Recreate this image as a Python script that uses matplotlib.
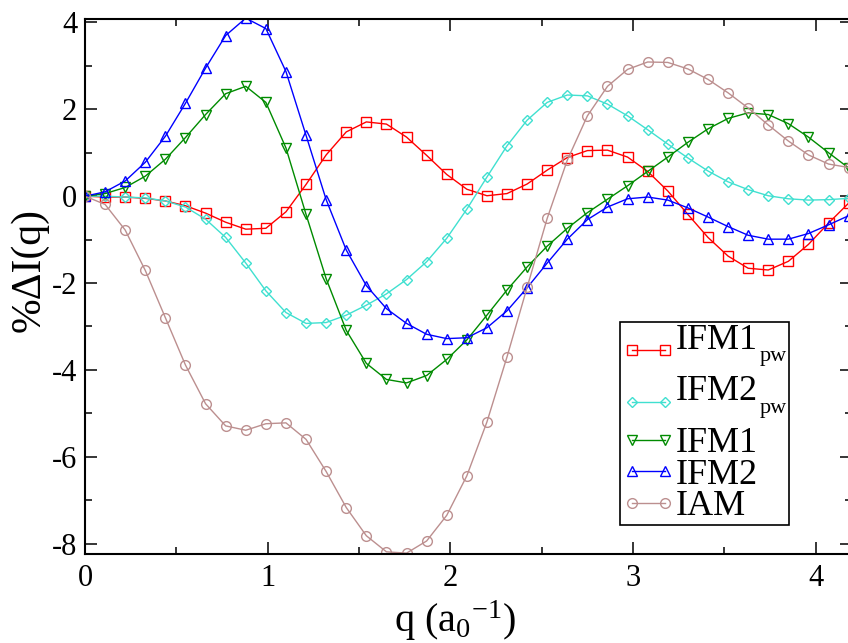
import numpy as np
import matplotlib
matplotlib.use("Agg")
import matplotlib.pyplot as plt
from matplotlib.ticker import MultipleLocator

plt.rcParams['font.family'] = ['Liberation Serif', 'DejaVu Serif']
plt.rcParams['mathtext.fontset'] = 'custom'
plt.rcParams['mathtext.rm'] = 'Liberation Serif'
plt.rcParams['mathtext.it'] = 'Liberation Serif:italic'
plt.rcParams['axes.unicode_minus'] = False

# momentum transfer grid (a0^-1)
dq = 0.11
q = dq * np.arange(40)

ifm1_pw = [0.00, -0.02, -0.02, -0.05, -0.11, -0.22, -0.39, -0.60, -0.76, -0.74,
           -0.36, 0.27, 0.95, 1.48, 1.71, 1.66, 1.36, 0.94, 0.50, 0.16,
           0.01, 0.06, 0.28, 0.60, 0.89, 1.05, 1.06, 0.90, 0.57, 0.12,
           -0.42, -0.95, -1.38, -1.66, -1.70, -1.50, -1.11, -0.62, -0.16, 0.30]
ifm2_pw = [0.00, 0.00, -0.02, -0.04, -0.11, -0.25, -0.53, -0.95, -1.54, -2.18,
           -2.68, -2.93, -2.91, -2.74, -2.51, -2.25, -1.92, -1.51, -0.97, -0.30,
           0.44, 1.16, 1.75, 2.16, 2.33, 2.31, 2.12, 1.85, 1.53, 1.20,
           0.88, 0.58, 0.33, 0.15, 0.01, -0.06, -0.09, -0.08, -0.05, 0.00]
ifm1 = [0.00, 0.06, 0.20, 0.46, 0.85, 1.35, 1.88, 2.36, 2.53, 2.16,
        1.11, -0.42, -1.90, -3.09, -3.85, -4.22, -4.30, -4.13, -3.76, -3.31,
        -2.74, -2.16, -1.63, -1.15, -0.74, -0.38, -0.07, 0.24, 0.57, 0.90,
        1.24, 1.55, 1.79, 1.92, 1.88, 1.67, 1.36, 1.00, 0.65, 0.32]
ifm2 = [0.00, 0.10, 0.35, 0.78, 1.38, 2.14, 2.95, 3.70, 4.10, 3.86,
        2.87, 1.40, -0.08, -1.24, -2.06, -2.59, -2.93, -3.18, -3.28, -3.26,
        -3.03, -2.64, -2.11, -1.54, -0.99, -0.54, -0.25, -0.06, -0.02, -0.09,
        -0.27, -0.48, -0.70, -0.90, -0.99, -0.99, -0.86, -0.66, -0.45, -0.22]
iam = [0.00, -0.19, -0.78, -1.71, -2.80, -3.89, -4.78, -5.29, -5.39, -5.24,
       -5.22, -5.60, -6.34, -7.17, -7.82, -8.19, -8.22, -7.94, -7.35, -6.44,
       -5.20, -3.70, -2.10, -0.51, 0.83, 1.85, 2.53, 2.92, 3.09, 3.08,
       2.93, 2.69, 2.38, 2.03, 1.64, 1.27, 0.95, 0.74, 0.66, 0.62]

# (values, name, subscript, colour, marker, marker size)
series = [
    (ifm1_pw, 'IFM1', 'pw', '#ff0000', 's', 6.5),
    (ifm2_pw, 'IFM2', 'pw', '#40e0d0', 'D', 5.5),
    (ifm1, 'IFM1', '', '#008b00', 'v', 7.5),
    (ifm2, 'IFM2', '', '#0000ff', '^', 7.5),
    (iam, 'IAM', '', '#bc8f8f', 'o', 7.0),
]

fig = plt.figure(figsize=(8.48, 6.43), dpi=100)
ax = fig.add_axes([85 / 848, 89 / 643, 767.3 / 848, 535 / 643])

for y, name, sub, color, marker, ms in series:
    # rows with a subscript get an empty second line to make room for it
    label = name + '\n' if sub else name
    ax.plot(q, y, color=color, lw=1.0, marker=marker, ms=ms,
            mfc='none', mec=color, mew=1.0, label=label)

ax.set_xlim(0, 4.2)
ax.set_ylim(-8.24, 4.08)
ax.xaxis.set_major_locator(MultipleLocator(1))
ax.xaxis.set_minor_locator(MultipleLocator(0.5))
ax.yaxis.set_major_locator(MultipleLocator(2))
ax.yaxis.set_minor_locator(MultipleLocator(1))
ax.tick_params(which='both', direction='in', top=True, right=True,
               labelsize=22, width=1.1)
ax.tick_params(which='major', length=8.5)
ax.tick_params(which='minor', length=5)
ax.tick_params(axis='x', which='major', pad=7)
ax.tick_params(axis='y', which='major', pad=5.5)
for sp in ax.spines.values():
    sp.set_linewidth(1.5)

ax.set_xlabel(r'q (a$_0$$^{-1}$)', fontsize=29)
ax.xaxis.set_label_coords(0.482, -0.083)
ax.set_ylabel('%ΔI(q)', fontsize=30)
ax.yaxis.set_label_coords(-0.047, 0.53)

leg = ax.legend(loc='lower left', bbox_to_anchor=(0.697, 0.054, 0.2203, 0.3),
                mode='expand', fontsize=26, numpoints=2, handlelength=1.5,
                handletextpad=0.0, labelspacing=-0.05, borderpad=0.05,
                borderaxespad=0, fancybox=False, framealpha=1)
leg.get_frame().set_edgecolor('black')
leg.get_frame().set_linewidth(1.2)

for text, (_, _, sub, _, _, _) in zip(leg.texts, series):
    if sub:
        text.set_linespacing(0.5)
        ax.annotate(sub, xy=(1, 1), xycoords=text, xytext=(1.5, -27),
                    textcoords='offset points', fontsize=16,
                    ha='left', va='baseline', zorder=6)

fig.savefig('out.png', dpi=100)
